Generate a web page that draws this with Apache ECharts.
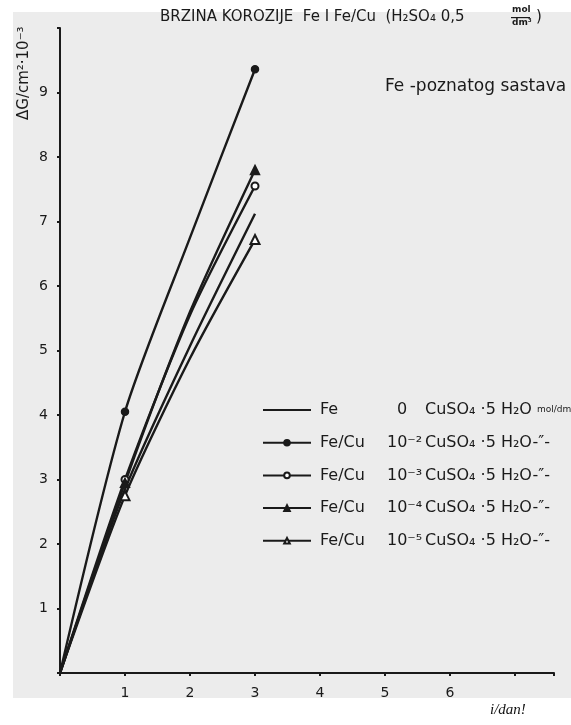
<!DOCTYPE html>
<html>
<head>
<meta charset="utf-8">
<script src="https://cdn.jsdelivr.net/npm/echarts@6/dist/echarts.min.js"></script>
<style>
  html, body { margin: 0; padding: 0; background: #fff; }
  #chart { width: 571px; height: 725px; }
</style>
</head>
<body>
<div id="chart"></div>
<script>
// days
const xValues = [0, 1, 2, 3];
// which points carry a marker
const markedAt = [false, true, false, true];

// ΔG/cm² · 10⁻³
const fe = [0, 2.85, 5.07, 7.12];
const feCu2 = [0, 4.05, 6.75, 9.36];
const feCu3 = [0, 3.0, 5.55, 7.55];
const feCu4 = [0, 2.95, 5.6, 7.8];
const feCu5 = [0, 2.75, 4.88, 6.72];

const seriesNames = ['Fe|0', 'Fe/Cu|10⁻²', 'Fe/Cu|10⁻³', 'Fe/Cu|10⁻⁴', 'Fe/Cu|10⁻⁵'];
const seriesSymbols = ['none', 'circle', 'emptyCircle', 'triangle', 'emptyTriangle'];

const xTickLabels = ['1', '2', '3', '4', '5', '6'];
const yTickLabels = ['1', '2', '3', '4', '5', '6', '7', '8', '9'];

const ink = '#1a1a1a';
const paper = '#ececec';
const font = 'DejaVu Sans';

const chart = echarts.init(document.getElementById('chart'));

function buildData(values, symbol) {
  return xValues.map((x, i) => ({
    value: [x, values[i]],
    symbol: markedAt[i] ? symbol : 'none'
  }));
}

const allValues = [fe, feCu2, feCu3, feCu4, feCu5];

const option = {
  backgroundColor: '#ffffff',
  animation: false,
  graphic: [
    {
      type: 'rect', z: -10, silent: true,
      shape: { x: 13, y: 12, width: 558, height: 686 },
      style: { fill: paper }
    },
    {
      type: 'text', left: 160, top: 10,
      style: { text: 'BRZINA KOROZIJE  Fe I Fe/Cu  (H₂SO₄ 0,5', font: '15px ' + font, fill: ink }
    },
    {
      type: 'text', left: 512, top: 5,
      style: { text: 'mol', font: 'bold 9px ' + font, fill: ink }
    },
    {
      type: 'rect', shape: { x: 511, y: 17, width: 19, height: 1.2 }, style: { fill: ink }
    },
    {
      type: 'text', left: 512, top: 18,
      style: { text: 'dm³', font: 'bold 9px ' + font, fill: ink }
    },
    {
      type: 'text', left: 536, top: 10,
      style: { text: ')', font: '15px ' + font, fill: ink }
    },
    {
      type: 'text', left: 385, top: 78,
      style: { text: 'Fe -poznatog sastava', font: '17px ' + font, fill: ink }
    },
    {
      type: 'text', x: 24, y: 120, rotation: Math.PI / 2,
      style: { text: 'ΔG/cm²·10⁻³', font: '15px ' + font, fill: ink, align: 'left', verticalAlign: 'middle' }
    },
    {
      type: 'text', left: 490, top: 703,
      style: { text: 'i/dan!', font: 'italic 15px "Liberation Serif"', fill: '#111' }
    }
  ],
  grid: { left: 60, right: 17, top: 28, bottom: 52 },
  xAxis: {
    type: 'value', min: 0, max: 7.6, interval: 1,
    splitLine: { show: false },
    axisLine: { lineStyle: { color: ink, width: 2 } },
    axisTick: { length: 3, lineStyle: { color: ink, width: 2 } },
    axisLabel: {
      color: ink, fontFamily: font, fontSize: 14, margin: 13,
      formatter: v => xTickLabels.includes(String(v)) ? String(v) : ''
    }
  },
  yAxis: {
    type: 'value', min: 0, max: 10, interval: 1,
    splitLine: { show: false },
    axisLine: { show: true, lineStyle: { color: ink, width: 2 } },
    axisTick: { show: true, length: 3, lineStyle: { color: ink, width: 2 } },
    axisLabel: {
      color: ink, fontFamily: font, fontSize: 14, margin: 12,
      formatter: v => yTickLabels.includes(String(v)) ? String(v) : ''
    }
  },
  legend: {
    orient: 'vertical', left: 257, top: 395,
    itemWidth: 48, itemHeight: 7, itemGap: 12.7,
    data: seriesNames.map((name, k) => k === 0
      ? { name, itemStyle: { opacity: 0 } }
      : { name }),
    formatter: name => {
      const [a, b] = name.split('|');
      const mid = b === '0' ? '{z|0}' : '{b|' + b + '}';
      const tail = b === '0' ? '{c|CuSO₄ ·5 H₂O }{f|mol/dm³}' : '{c|CuSO₄ ·5 H₂O-″-}';
      return '{s|}{a|' + a + '}' + mid + tail;
    },
    textStyle: {
      color: ink, fontFamily: font, fontSize: 16, lineHeight: 20,
      rich: {
        s: { width: 4, lineHeight: 20 },
        a: { width: 67, fontSize: 16, fontFamily: font, color: ink, lineHeight: 20 },
        b: { width: 38, fontSize: 16, fontFamily: font, color: ink, lineHeight: 20 },
        z: { width: 28, padding: [0, 0, 0, 10], fontSize: 16, fontFamily: font, color: ink, lineHeight: 20 },
        c: { fontSize: 16, fontFamily: font, color: ink, lineHeight: 20 },
        f: { fontSize: 9, fontFamily: font, color: ink, lineHeight: 20 }
      }
    }
  },
  series: seriesNames.map((name, k) => ({
    name,
    type: 'line',
    smooth: 0.25,
    symbol: seriesSymbols[k],
    symbolSize: seriesSymbols[k].includes('riangle') ? 9 : 7,
    showSymbol: true,
    lineStyle: { color: ink, width: 2.4 },
    itemStyle: { color: ink, borderColor: ink, borderWidth: 1.5 },
    data: buildData(allValues[k], seriesSymbols[k])
  }))
};

chart.setOption(option);
</script>
</body>
</html>
